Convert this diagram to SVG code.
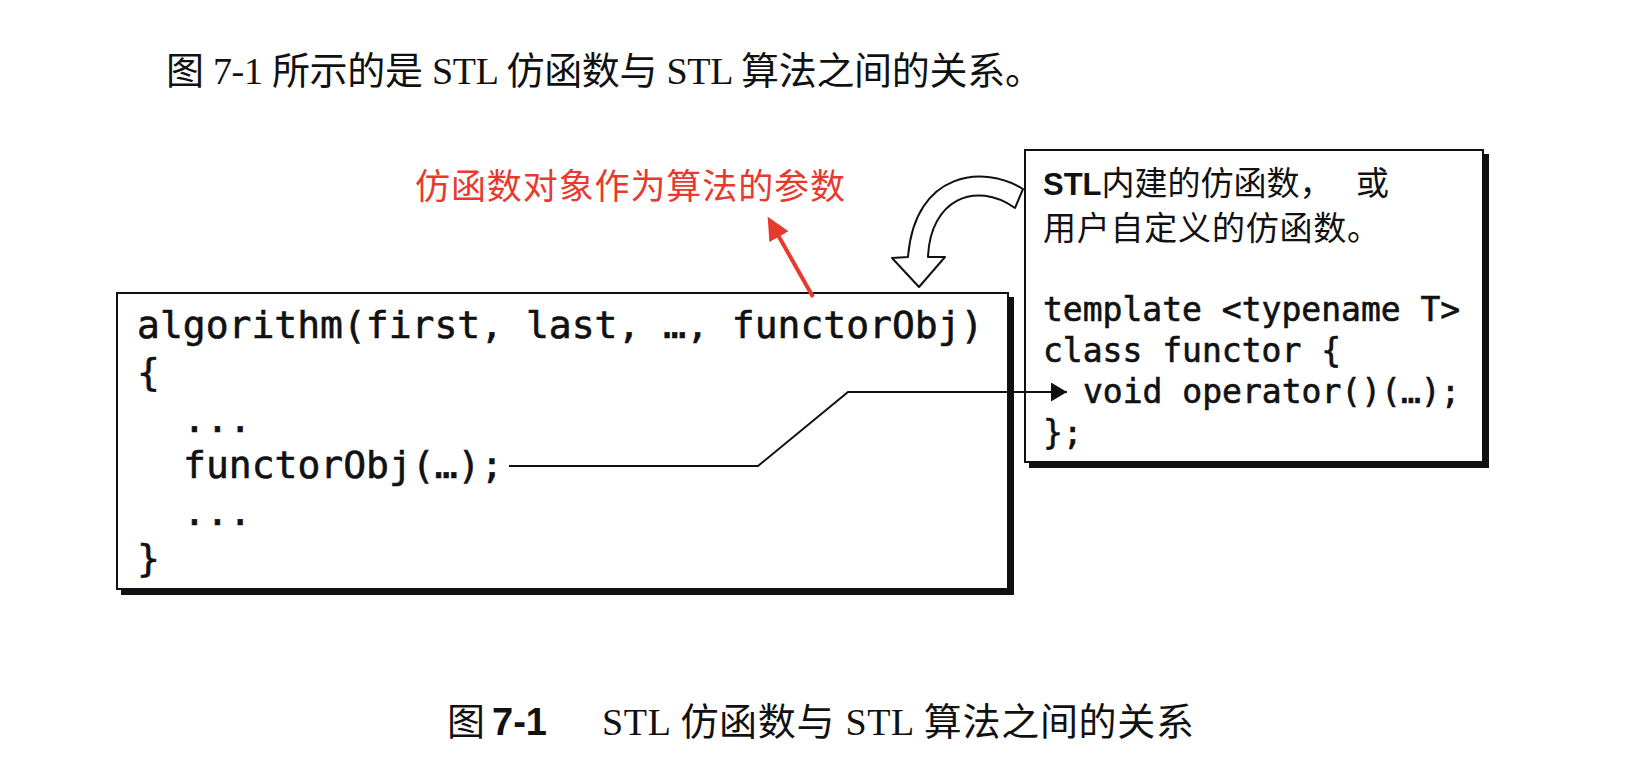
<svg xmlns="http://www.w3.org/2000/svg" width="1642" height="774" viewBox="0 0 1642 774">
<defs>
<style>
.serif{font-family:"Liberation Serif","Noto Sans CJK SC",serif;fill:#111}
.cjk{font-family:"Noto Sans CJK SC",sans-serif;fill:#111}
.code{font-family:"DejaVu Sans Mono","Liberation Mono",monospace;fill:#111;stroke:#111;stroke-width:0.6}
.bsans{font-family:"Liberation Sans","Noto Sans CJK SC",sans-serif;font-weight:bold;fill:#111}
.box{fill:#fff;stroke:#111;stroke-width:2}
.shadow{fill:none;stroke:#111;stroke-width:5}
.conn{fill:none;stroke:#111;stroke-width:2}
</style>
<marker id="ah" markerUnits="userSpaceOnUse" markerWidth="17" markerHeight="20" refX="16" refY="9.5" orient="auto"><path d="M0,0 L16,9.5 L0,19 z" fill="#111"/></marker>
<marker id="ahRed" markerUnits="userSpaceOnUse" markerWidth="24" markerHeight="23" refX="2" refY="11" orient="auto"><path d="M0,0 L23,11 L0,22 z" fill="#e8392f"/></marker>
</defs>
<rect width="1642" height="774" fill="#fff"/>

<g id="intro-text">
<text class="serif" x="166" y="84" font-size="38" textLength="877" lengthAdjust="spacing">图 7-1 所示的是 STL 仿函数与 STL 算法之间的关系。</text>
</g>

<g id="label-param">
<text class="cjk" x="415" y="199" font-size="35" textLength="430" lengthAdjust="spacing" style="fill:#e8392f">仿函数对象作为算法的参数</text>
</g>

<g id="algorithm-box">
<rect class="box" x="117" y="293" width="891" height="296"/>
<polyline class="shadow" points="1011.5,297 1011.5,592.5 121,592.5"/>
<text class="code" font-size="38">
<tspan x="137" y="338">algorithm(first, last, …, functorObj)</tspan>
<tspan x="137" y="385">{</tspan>
<tspan x="183" y="432">...</tspan>
<tspan x="183" y="478">functorObj(…);</tspan>
<tspan x="183" y="525">...</tspan>
<tspan x="137" y="571">}</tspan>
</text>
</g>

<g id="functor-box">
<rect class="box" x="1025" y="150" width="458" height="312"/>
<polyline class="shadow" points="1486.5,154 1486.5,465.5 1029,465.5"/>
<text x="1043" y="195"><tspan class="bsans" font-size="31">STL</tspan><tspan class="cjk" font-size="33">内建的仿函数，</tspan></text>
<text class="cjk" x="1356" y="195" font-size="33">或</text>
<text class="cjk" x="1043" y="240" font-size="33" textLength="337" lengthAdjust="spacing">用户自定义的仿函数。</text>
<text class="code" font-size="33">
<tspan x="1043" y="321">template &lt;typename T&gt;</tspan>
<tspan x="1043" y="362">class functor {</tspan>
<tspan x="1083" y="403">void operator()(…);</tspan>
<tspan x="1043" y="444">};</tspan>
</text>
</g>

<g id="curved-arrow">
<path d="M1023,189 C985,165 915,170 908,257 L892,258 L919,287 L945,257 L928,257 C930,200 975,180 1015,208 Z" fill="#fff" stroke="#111" stroke-width="2" stroke-linejoin="round"/>
</g>

<g id="connectors">
<polyline class="conn" points="509,466 758,466 848,392 1067,392" marker-end="url(#ah)"/>
<line x1="813" y1="297" x2="778" y2="235" stroke="#e8392f" stroke-width="4" marker-end="url(#ahRed)"/>
</g>

<g id="caption">
<text class="serif" x="447" y="735" font-size="38">图</text>
<text class="bsans" x="492" y="735" font-size="38">7-1</text>
<text class="serif" x="602" y="735" font-size="38" textLength="592" lengthAdjust="spacing">STL 仿函数与 STL 算法之间的关系</text>
</g>
</svg>
